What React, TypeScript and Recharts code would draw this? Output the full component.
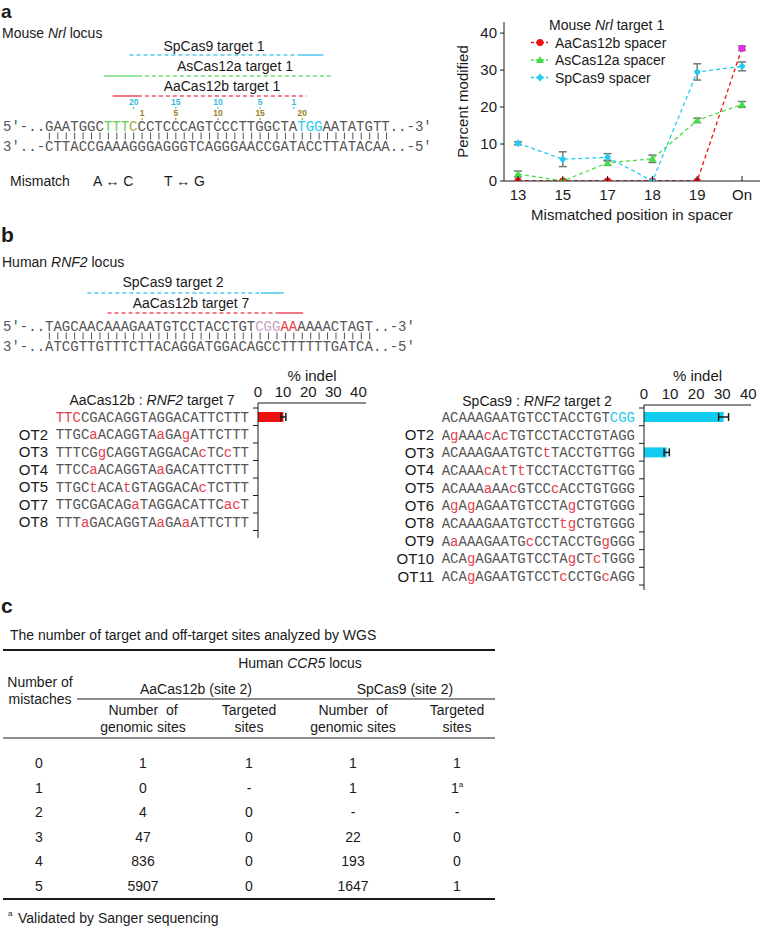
import React from "react";
import { Bar, BarChart, ErrorBar, Line, LineChart, XAxis, YAxis } from "recharts";

const SANS = "'Liberation Sans', Arial, Helvetica, sans-serif";
const MONO = "'Liberation Mono', 'Courier New', monospace";
const INK = "#1a1a1a";
const SEQ_GRAY = "#555555";
const MISMATCH = "#e8404c";
const RED = "#ee1111";
const GREEN = "#44dd44";
const CYAN = "#22ccee";
const MAGENTA = "#dd33dd";

// ---- panel a: Nrl target 1, mismatch tolerance
const positions = ["13", "15", "17", "18", "19", "On"];
const aaCas12bPct = [0, 0, 0, 0, 0, 35.9];
const aaCas12bErr = [0, 0, 0, 0, 0, 0.6];
const asCas12aPct = [1.9, 0, 4.9, 6.0, 16.4, 20.7];
const asCas12aErr = [0.8, 0, 0.7, 1.0, 0.6, 0.8];
const spCas9Pct = [10.2, 5.9, 6.4, 0, 29.5, 31.0];
const spCas9Err = [0.4, 2.0, 1.0, 0, 2.2, 1.2];
const percentTicks = [0, 10, 20, 30, 40];

const nrlTop = "GAATGGCTTTCCCTCCCAGTCCCTTGGCTATGGAATATGTT";
const nrlBottom = "CTTACCGAAAGGGAGGGTCAGGGAACCGATACCTTATACAA";
const spNumbers = [20, 15, 10, 5, 1];
const aaNumbers = [1, 5, 10, 15, 20];

// ---- panel b: RNF2 off-targets
const rnf2Top = "TAGCAACAAAGAATGTCCTACCTGTCGGAAAAAACTAGT";
const rnf2Bottom = "ATCGTTGTTTCTTACAGGATGGACAGCCTTTTTTGATCA";

const aaRows = ["", "OT2", "OT3", "OT4", "OT5", "OT7", "OT8"];
const aaSeqs = [
  "TTCCGACAGGTAGGACATTCTTT",
  "TTGCaACAGGTAaGAgATTCTTT",
  "TTTCGgCAGGTAGGACAcTCcTT",
  "TTCCaACAGGTAaGACATTCTTT",
  "TTGCtACAtGTAGGACAcTCTTT",
  "TTGCGACAGaTAGGACATTCacT",
  "TTTaGACAGGTAaGAaATTCTTT",
];
const aaIndel = [10.1, 0, 0, 0, 0, 0, 0];
const aaIndelErr = [1.0, 0, 0, 0, 0, 0, 0];

const spRows = ["", "OT2", "OT3", "OT4", "OT5", "OT6", "OT8", "OT9", "OT10", "OT11"];
const spSeqs = [
  "ACAAAGAATGTCCTACCTGTCGG",
  "AgAAAcAcTGTCCTACCTGTAGG",
  "ACAAAGAATGTCtTACCTGTTGG",
  "ACAAAcAtTtTCCTACCTGTTGG",
  "ACAAAaAAcGTCCcACCTGTGGG",
  "AgAgAGAATGTCCTAgCTGTGGG",
  "ACAAAGAATGTCCTtgCTGTGGG",
  "AaAAAGAATGcCCTACCTGgGGG",
  "ACAgAGAATGTCCTAgCTcTGGG",
  "ACAgAGAATGTCCTcCCTGcAGG",
];
const spIndel = [30.5, 0, 8.7, 0, 0, 0, 0, 0, 0, 0];
const spIndelErr = [1.9, 0, 1.0, 0, 0, 0, 0, 0, 0, 0];
const indelTicks = [0, 10, 20, 30, 40];

// ---- panel c: WGS table
const mismatchCounts = ["0", "1", "2", "3", "4", "5"];
const aaGenomic = ["1", "0", "4", "47", "836", "5907"];
const aaTargeted = ["1", "-", "0", "0", "0", "0"];
const spGenomic = ["1", "1", "-", "22", "193", "1647"];
const spTargeted = ["1", "1", "-", "0", "0", "1"];
const spTargetedNote = ["", "a", "", "", "", ""];

// monospace grid for the locus drawings
const CW = 8.43;
const X0 = 3;
const charX = (i: number) => X0 + i * CW;

function DnaLine({
  y,
  prefix,
  seq,
  suffix,
  colorAt,
}: {
  y: number;
  prefix: string;
  seq: string;
  suffix: string;
  colorAt?: (i: number) => string | undefined;
}) {
  const chars = (prefix + seq + suffix).split("");
  return (
    <text x={X0} y={y} fontFamily={MONO} fontSize={14} fill={SEQ_GRAY}>
      {chars.map((c, i) => (
        <tspan key={i} fill={(colorAt && colorAt(i - prefix.length)) || SEQ_GRAY}>
          {c}
        </tspan>
      ))}
    </text>
  );
}

function BasePairs({ y, n }: { y: number; n: number }) {
  return (
    <g stroke={SEQ_GRAY} strokeWidth={1}>
      {Array.from({ length: n }, (_, k) => {
        const x = charX(5 + k) + CW / 2;
        return <line key={k} x1={x} x2={x} y1={y - 3.5} y2={y + 3.5} />;
      })}
    </g>
  );
}

function Guide({
  y,
  color,
  dashed,
  solid,
}: {
  y: number;
  color: string;
  dashed: [number, number];
  solid: [number, number];
}) {
  return (
    <g stroke={color} strokeWidth={1.6}>
      <line x1={charX(dashed[0])} x2={charX(dashed[1])} y1={y} y2={y} strokeDasharray="4 3" />
      <line x1={charX(solid[0])} x2={charX(solid[1])} y1={y} y2={y} />
    </g>
  );
}

function Marker({ shape, x, y, color }: { shape: string; x: number; y: number; color: string }) {
  if (shape === "tri")
    return <path d={`M${x},${y - 4} L${x + 4},${y + 3} L${x - 4},${y + 3} Z`} fill={color} />;
  if (shape === "diamond")
    return <path d={`M${x},${y - 4} L${x + 3.5},${y} L${x},${y + 4} L${x - 3.5},${y} Z`} fill={color} />;
  return <circle cx={x} cy={y} r={3.5} fill={color} />;
}

const aaDot = (p: any) => (
  <circle
    key={`aa-${p.index}`}
    cx={p.cx}
    cy={p.cy}
    r={3.6}
    fill={p.index === positions.length - 1 ? MAGENTA : RED}
  />
);
const asDot = (p: any) => (
  <g key={`as-${p.index}`}>
    <Marker shape="tri" x={p.cx} y={p.cy} color={GREEN} />
  </g>
);
const spDot = (p: any) => (
  <g key={`sp-${p.index}`}>
    <Marker shape="diamond" x={p.cx} y={p.cy} color={CYAN} />
  </g>
);

function PosTick(p: any) {
  const { x, y, payload } = p;
  return (
    <g>
      <line x1={x} x2={x} y1={y - 8} y2={y - 13} stroke={INK} />
      <text x={x} y={y} dy="0.71em" textAnchor="middle" fontSize={15} fill={INK}>
        {payload.value}
      </text>
    </g>
  );
}

function makeSeqTick(labels: string[], seqs: string[], pamColor: string, pamAtEnd: boolean, band: number) {
  return (p: any) => {
    const { x, y, index } = p;
    const seq = seqs[index];
    const axisX = x + 9;
    return (
      <g key={`row-${index}`}>
        <line x1={axisX - 5} x2={axisX} y1={y - band / 2} y2={y - band / 2} stroke={INK} />
        {index === seqs.length - 1 && (
          <line x1={axisX - 5} x2={axisX} y1={y + band / 2} y2={y + band / 2} stroke={INK} />
        )}
        <text x={x - 201} y={y} dy="0.36em" textAnchor="end" fontSize={15} fill={INK}>
          {labels[index]}
        </text>
        <text x={x} y={y} dy="0.36em" textAnchor="end" fontFamily={MONO} fontSize={14}>
          {seq.split("").map((ch, k) => {
            const inPam = index === 0 && (pamAtEnd ? k >= seq.length - 3 : k < 3);
            const fill = inPam ? pamColor : ch !== ch.toUpperCase() ? MISMATCH : SEQ_GRAY;
            return (
              <tspan key={k} fill={fill}>
                {ch}
              </tspan>
            );
          })}
        </text>
      </g>
    );
  };
}

const legendItems = [
  { name: "AaCas12b spacer", color: RED, shape: "circle" },
  { name: "AsCas12a spacer", color: GREEN, shape: "tri" },
  { name: "SpCas9 spacer", color: CYAN, shape: "diamond" },
];

const tableCols = [39, 143, 249, 353, 457];

export default function App() {
  const lineData = positions.map((pos, i) => ({
    pos,
    aa: aaCas12bPct[i],
    aaErr: aaCas12bErr[i],
    as: asCas12aPct[i],
    asErr: asCas12aErr[i],
    sp: spCas9Pct[i],
    spErr: spCas9Err[i],
  }));
  const aaData = aaRows.map((r, i) => ({ row: r || "target", value: aaIndel[i], err: aaIndelErr[i] }));
  const spData = spRows.map((r, i) => ({ row: r || "target", value: spIndel[i], err: spIndelErr[i] }));

  const nrlColor = (i: number) => {
    if (i >= 7 && i <= 9) return "#66cc55";
    if (i === 10) return "#a8a840";
    if (i >= 30 && i <= 32) return CYAN;
    return undefined;
  };
  const rnf2Color = (i: number) => {
    if (i >= 25 && i <= 27) return "#c4a4c4";
    if (i === 28 || i === 29) return MISMATCH;
    return undefined;
  };

  const rowY = (i: number) => 763 + i * 24.6;

  return (
    <div
      style={{
        position: "absolute",
        left: 0,
        top: 0,
        width: 760,
        height: 927,
        overflow: "hidden",
        background: "#fff",
        fontFamily: SANS,
      }}
    >
      <svg
        width={760}
        height={927}
        style={{ position: "absolute", left: 0, top: 0 }}
        fontFamily={SANS}
        fill={INK}
      >
        {/* panel a, locus drawing */}
        <text x={1} y={18} fontSize={19} fontWeight="bold">a</text>
        <text x={2} y={38} fontSize={14}>
          Mouse <tspan fontStyle="italic">Nrl</tspan> locus
        </text>
        <text x={214} y={51} fontSize={14} textAnchor="middle">SpCas9 target 1</text>
        <Guide y={55} color="#55ccee" dashed={[15, 35]} solid={[35, 38]} />
        <text x={235} y={71} fontSize={14} textAnchor="middle">AsCas12a target 1</text>
        <Guide y={76} color="#77dd77" dashed={[16, 39]} solid={[12, 16]} />
        <text x={222} y={91} fontSize={14} textAnchor="middle">AaCas12b target 1</text>
        <Guide y={96} color="#ee5566" dashed={[16, 36]} solid={[13, 16]} />
        {spNumbers.map((n) => {
          const x = charX(35 - n) + CW / 2;
          return (
            <g key={`sp${n}`}>
              <text x={x} y={105} fontSize={8.5} fontWeight="bold" fill="#33bbdd" textAnchor="middle">
                {n}
              </text>
              <line x1={x} x2={x} y1={107} y2={109} stroke="#33bbdd" />
            </g>
          );
        })}
        {aaNumbers.map((n) => {
          const x = charX(15 + n) + CW / 2;
          return (
            <g key={`aa${n}`}>
              <text x={x} y={116} fontSize={8.5} fontWeight="bold" fill="#9c7c22" textAnchor="middle">
                {n}
              </text>
              <line x1={x} x2={x} y1={118} y2={120} stroke="#9c7c22" />
            </g>
          );
        })}
        <DnaLine y={131} prefix={"5\u2032-.."} seq={nrlTop} suffix={"..-3\u2032"} colorAt={nrlColor} />
        <BasePairs y={136} n={nrlTop.length} />
        <DnaLine y={151} prefix={"3\u2032..-"} seq={nrlBottom} suffix={"..-5\u2032"} />
        <text x={10} y={186} fontSize={14}>Mismatch</text>
        <text x={93} y={186} fontSize={14}>A {"\u2194"} C</text>
        <text x={164} y={186} fontSize={14}>T {"\u2194"} G</text>

        {/* panel a, legend */}
        <text x={549} y={30} fontSize={14}>
          Mouse <tspan fontStyle="italic">Nrl</tspan> target 1
        </text>
        {legendItems.map((it, i) => {
          const y = 42.5 + i * 17.5;
          return (
            <g key={it.name}>
              <line x1={531} x2={548} y1={y} y2={y} stroke={it.color} strokeDasharray="3 2" strokeWidth={1.3} />
              <Marker shape={it.shape} x={540} y={y} color={it.color} />
              <text x={555} y={y + 5} fontSize={14}>{it.name}</text>
            </g>
          );
        })}

        {/* panel b, locus drawing */}
        <text x={1} y={242} fontSize={21} fontWeight="bold">b</text>
        <text x={2} y={267} fontSize={14}>
          Human <tspan fontStyle="italic">RNF2</tspan> locus
        </text>
        <text x={173} y={287} fontSize={14} textAnchor="middle">SpCas9 target 2</text>
        <Guide y={293} color="#55ccee" dashed={[10, 30.6]} solid={[30.6, 33.3]} />
        <text x={191} y={308} fontSize={14} textAnchor="middle">AaCas12b target 7</text>
        <Guide y={313} color="#ee5566" dashed={[12.4, 32.6]} solid={[32.6, 35.6]} />
        <DnaLine y={331} prefix={"5\u2032-.."} seq={rnf2Top} suffix={"..-3\u2032"} colorAt={rnf2Color} />
        <BasePairs y={336} n={rnf2Top.length} />
        <DnaLine y={351} prefix={"3\u2032-.."} seq={rnf2Bottom} suffix={"..-5\u2032"} />
        <text x={152} y={405} fontSize={14} textAnchor="middle">
          AaCas12b : <tspan fontStyle="italic">RNF2</tspan> target 7
        </text>
        <text x={537} y={406} fontSize={14} textAnchor="middle">
          SpCas9 : <tspan fontStyle="italic">RNF2</tspan> target 2
        </text>

        {/* panel c, table */}
        <text x={1} y={613} fontSize={21} fontWeight="bold">c</text>
        <text x={10} y={640} fontSize={14}>The number of target and off-target sites analyzed by WGS</text>
        <line x1={3} x2={495} y1={650} y2={650} stroke={INK} strokeWidth={2} />
        <text x={300} y={668} fontSize={14} textAnchor="middle">
          Human <tspan fontStyle="italic">CCR5</tspan> locus
        </text>
        <text x={40} y={687} fontSize={14} textAnchor="middle">Number of</text>
        <text x={40} y={704} fontSize={14} textAnchor="middle">mistaches</text>
        <text x={196} y={694} fontSize={14} textAnchor="middle">AaCas12b (site 2)</text>
        <text x={405} y={694} fontSize={14} textAnchor="middle">SpCas9 (site 2)</text>
        <line x1={77} x2={495} y1={699} y2={699} stroke={INK} strokeWidth={1} />
        {[tableCols[1], tableCols[3]].map((x) => (
          <g key={`g${x}`}>
            <text x={x} y={715} fontSize={14} textAnchor="middle" xmlSpace="preserve">Number  of</text>
            <text x={x} y={732} fontSize={14} textAnchor="middle">genomic sites</text>
          </g>
        ))}
        {[tableCols[2], tableCols[4]].map((x) => (
          <g key={`t${x}`}>
            <text x={x} y={715} fontSize={14} textAnchor="middle">Targeted</text>
            <text x={x} y={732} fontSize={14} textAnchor="middle">sites</text>
          </g>
        ))}
        <line x1={3} x2={495} y1={738} y2={738} stroke={INK} strokeWidth={1} />
        {mismatchCounts.map((m, i) => {
          const y = rowY(i) + 5;
          return (
            <g key={`r${m}`} fontSize={14} textAnchor="middle">
              <text x={tableCols[0]} y={y}>{m}</text>
              <text x={tableCols[1]} y={y}>{aaGenomic[i]}</text>
              <text x={tableCols[2]} y={y}>{aaTargeted[i]}</text>
              <text x={tableCols[3]} y={y}>{spGenomic[i]}</text>
              <text x={tableCols[4]} y={y}>
                {spTargeted[i]}
                {spTargetedNote[i] && (
                  <tspan fontSize={8} dy={-6}>
                    {spTargetedNote[i]}
                  </tspan>
                )}
              </text>
            </g>
          );
        })}
        <line x1={3} x2={495} y1={899} y2={899} stroke={INK} strokeWidth={2} />
        <text x={8} y={916} fontSize={8}>a</text>
        <text x={18} y={923} fontSize={14}>Validated by Sanger sequencing</text>
      </svg>

      {/* panel a, line chart */}
      <div style={{ position: "absolute", left: 380, top: 0 }}>
        <LineChart width={380} height={225} data={lineData} margin={{ top: 22, right: 0, bottom: 5, left: 42 }}>
          <XAxis
            dataKey="pos"
            padding={{ left: 14, right: 18 }}
            height={39}
            tickLine={false}
            tickSize={6}
            tickMargin={2}
            axisLine={{ stroke: INK }}
            tick={PosTick}
            label={{ value: "Mismatched position in spacer", position: "insideBottom", offset: 0, fontSize: 15, fill: INK }}
          />
          <YAxis
            type="number"
            domain={[0, 43]}
            ticks={percentTicks}
            width={82}
            tickSize={4}
            tickMargin={3}
            axisLine={{ stroke: INK }}
            tickLine={{ stroke: INK }}
            tick={{ fontSize: 15, fill: INK }}
            allowDataOverflow
            label={{ value: "Percent modified", angle: -90, position: "center", fontSize: 15, fill: INK }}
          />
          <Line
            dataKey="aa"
            stroke={RED}
            strokeWidth={1.3}
            strokeDasharray="4 3"
            dot={aaDot}
            activeDot={false}
            isAnimationActive={false}
          >
            <ErrorBar dataKey="aaErr" direction="y" width={4} stroke="#777" />
          </Line>
          <Line
            dataKey="as"
            stroke={GREEN}
            strokeWidth={1.3}
            strokeDasharray="4 3"
            dot={asDot}
            activeDot={false}
            isAnimationActive={false}
          >
            <ErrorBar dataKey="asErr" direction="y" width={4} stroke="#777" />
          </Line>
          <Line
            dataKey="sp"
            stroke={CYAN}
            strokeWidth={1.3}
            strokeDasharray="4 3"
            dot={spDot}
            activeDot={false}
            isAnimationActive={false}
          >
            <ErrorBar dataKey="spErr" direction="y" width={4} stroke="#777" />
          </Line>
        </LineChart>
      </div>

      {/* panel b, AaCas12b off-targets */}
      <div style={{ position: "absolute", left: 0, top: 360 }}>
        <BarChart
          width={380}
          height={185}
          layout="vertical"
          data={aaData}
          margin={{ top: 10, right: 14, bottom: 7, left: 0 }}
        >
          <XAxis
            type="number"
            orientation="top"
            domain={[0, 43]}
            ticks={indelTicks}
            height={33}
            tickLine={false}
            tickSize={0}
            tickMargin={6}
            axisLine={{ stroke: INK }}
            tick={{ fontSize: 15, fill: INK }}
            allowDataOverflow
            label={{ value: "% indel", position: "insideTop", offset: 0, fontSize: 15, fill: INK }}
          />
          <YAxis
            type="category"
            dataKey="row"
            width={258}
            interval={0}
            tickLine={false}
            tickSize={0}
            tickMargin={9}
            padding={{ top: 5, bottom: 7.5 }}
            axisLine={{ stroke: INK }}
            tick={makeSeqTick(aaRows, aaSeqs, MISMATCH, false, 17.5)}
          />
          <Bar dataKey="value" fill={RED} barSize={10} isAnimationActive={false}>
            <ErrorBar dataKey="err" direction="x" width={4} stroke={INK} />
          </Bar>
        </BarChart>
      </div>

      {/* panel b, SpCas9 off-targets */}
      <div style={{ position: "absolute", left: 380, top: 360 }}>
        <BarChart
          width={380}
          height={235}
          layout="vertical"
          data={spData}
          margin={{ top: 10, right: 9, bottom: 5, left: 0 }}
        >
          <XAxis
            type="number"
            orientation="top"
            domain={[0, 41]}
            ticks={indelTicks}
            height={35}
            tickLine={false}
            tickSize={0}
            tickMargin={6}
            axisLine={{ stroke: INK }}
            tick={{ fontSize: 15, fill: INK }}
            allowDataOverflow
            label={{ value: "% indel", position: "insideTop", offset: 0, fontSize: 15, fill: INK }}
          />
          <YAxis
            type="category"
            dataKey="row"
            width={264}
            interval={0}
            tickLine={false}
            tickSize={0}
            tickMargin={9}
            padding={{ top: 3, bottom: 5 }}
            axisLine={{ stroke: INK }}
            tick={makeSeqTick(spRows, spSeqs, CYAN, true, 17.7)}
          />
          <Bar dataKey="value" fill="#11ccee" barSize={10} isAnimationActive={false}>
            <ErrorBar dataKey="err" direction="x" width={4} stroke={INK} />
          </Bar>
        </BarChart>
      </div>
    </div>
  );
}
